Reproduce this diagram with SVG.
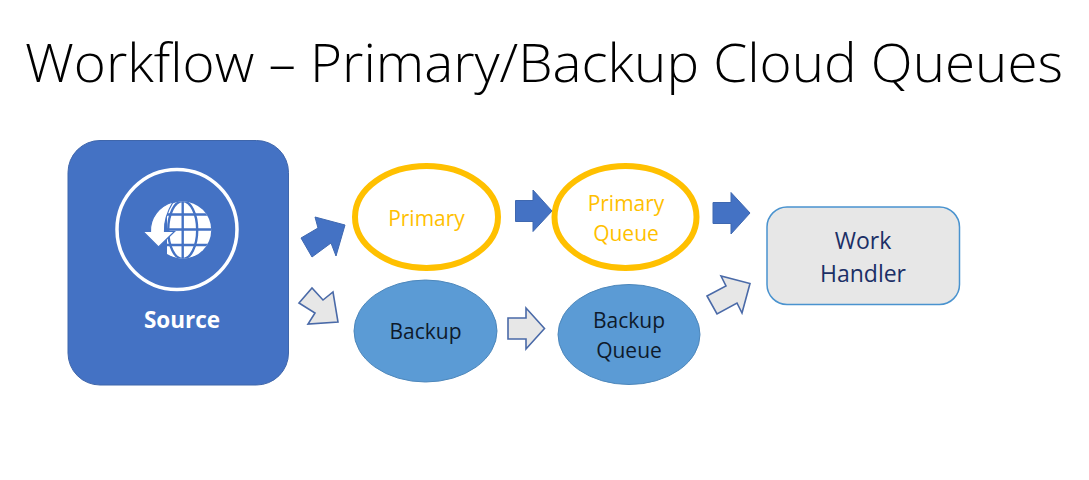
<svg xmlns="http://www.w3.org/2000/svg" width="1089" height="480" viewBox="0 0 1089 480">
<style>
text{font-family:"Open Sans","Noto Sans","Liberation Sans",sans-serif;text-anchor:middle}
.title{font-size:53px;font-weight:300;fill:#000;text-anchor:start}
.blue{fill:#4472c4;stroke:#3f68b0;stroke-width:1}
.gray{fill:#e7e7e7;stroke:#4a6aa8;stroke-width:1.6;stroke-linejoin:miter}
.ring{fill:#fff;stroke:#ffc000;stroke-width:6}
.bub{fill:#5b9bd5;stroke:#4d87bb;stroke-width:1}
.y{font-size:21px;fill:#ffc000}
.k{font-size:21px;fill:#0e1a2b}
.n{font-size:23px;fill:#1b2f66}
</style>
<defs>
<clipPath id="globe-clip"><circle cx="182.700" cy="230" r="28.500"/></clipPath>
</defs>
<rect width="1089" height="480" fill="#fff"/>
<text class="title" x="25" y="82" textLength="1038" lengthAdjust="spacingAndGlyphs">Workflow – Primary/Backup Cloud Queues</text>
<g id="source">
<rect x="68" y="140.500" width="220.500" height="244.500" rx="32" fill="#4472c4" stroke="#3f66ab"/>
<circle cx="177" cy="229.500" r="60" fill="none" stroke="#fff" stroke-width="3.500"/>
<g id="globe" clip-path="url(#globe-clip)">
<rect x="167" y="200" width="46" height="60" fill="#fff"/>
<path d="M182.700 200V260M154 214.500H212M154 229.500H212M154 245H212" fill="none" stroke="#4472c4" stroke-width="2.400"/>
<ellipse cx="182.700" cy="230" rx="14.500" ry="29" fill="none" stroke="#4472c4" stroke-width="2.400"/>
</g>
<path d="M173 202C159 206 150 218 150.500 231.500H143L158.500 247 174.500 231.500H164.500C164 222 167 212 173 202Z" fill="#fff" stroke="#4472c4" stroke-width="1.200"/>
<text x="182" y="328" style="font-size:22.500px;font-weight:700;fill:#fff">Source</text>
</g>
<g id="connectors">
<path class="blue" d="M301 238 318 228 315 217 345 225 336 256 331 243 312 257Z"/>
<path class="gray" d="M299 303 312 288 323 300 333 292 338 322 308 324 315 313Z"/>
<path class="blue" d="M515.500 200.500H533V190L552 211 533 231.500V221.500H515.500Z"/>
<path class="gray" d="M508 318H526V308L544.500 328.500 526 349V339H508Z"/>
<path class="blue" d="M713 202.500H731V192.500L750 213 731 234V223.500H713Z"/>
<path class="gray" d="M707 296 726 286 721 276 750 283.500 742 313 737 303 717 314Z"/>
</g>
<g id="primary"><ellipse class="ring" cx="426.500" cy="217" rx="71.500" ry="51"/><text class="y" x="426.500" y="226">Primary</text></g>
<g id="primary-queue"><ellipse class="ring" cx="625.500" cy="217" rx="71" ry="51"/><text class="y" x="626" y="211">Primary</text><text class="y" x="626" y="241">Queue</text></g>
<g id="backup"><ellipse class="bub" cx="425.500" cy="331" rx="71.500" ry="51"/><text class="k" x="425.500" y="339">Backup</text></g>
<g id="backup-queue"><ellipse class="bub" cx="629" cy="334.500" rx="71" ry="50"/><text class="k" x="629" y="328">Backup</text><text class="k" x="629" y="358">Queue</text></g>
<g id="work-handler"><rect x="767" y="207" width="192.500" height="97.500" rx="20" fill="#e7e7e7" stroke="#4a93cf" stroke-width="1.500"/><text class="n" x="863" y="249">Work</text><text class="n" x="863" y="282">Handler</text></g>
</svg>
